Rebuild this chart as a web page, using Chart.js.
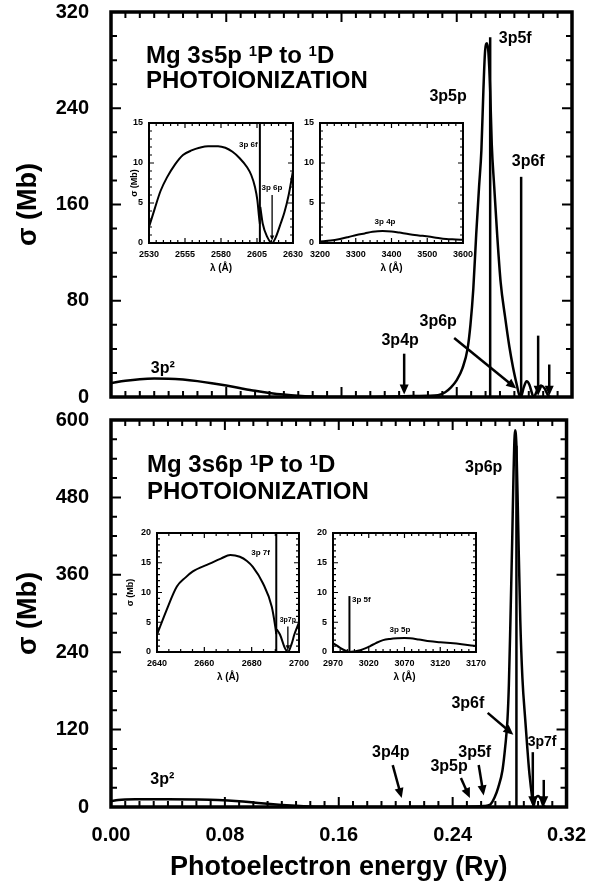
<!DOCTYPE html>
<html>
<head>
<meta charset="utf-8">
<script src="https://cdn.jsdelivr.net/npm/chart.js@4.4.1/dist/chart.umd.min.js"></script>
<style>
body { margin: 0; background: #fff; }
#wrap { position: relative; width: 602px; height: 886px; background: #fff; overflow: hidden; }
canvas { position: absolute; }
.ttl { position: absolute; font: bold 24px "Liberation Sans", Arial, sans-serif; line-height: 25px; white-space: nowrap; color: #000; }
.ttl sup { font-size: 15px; vertical-align: 7px; line-height: 0; }
</style>
</head>
<body>
<div id="wrap">
    <canvas id="mainTop" width="602" height="410" style="left:0;top:0"></canvas>
    <canvas id="mainBot" width="602" height="482" style="left:0;top:404px"></canvas>
    <canvas id="insTopA" width="200" height="172" style="left:109px;top:111px"></canvas>
    <canvas id="insTopB" width="195" height="172" style="left:284px;top:111px"></canvas>
    <canvas id="insBotA" width="198" height="171" style="left:117px;top:521px"></canvas>
    <canvas id="insBotB" width="195" height="171" style="left:297px;top:521px"></canvas>
    <div class="ttl" style="left:146px;top:42px">Mg 3s5p <sup>1</sup>P to <sup>1</sup>D</div>
    <div class="ttl" style="left:146px;top:67px">PHOTOIONIZATION</div>
    <div class="ttl" style="left:147px;top:451px">Mg 3s6p <sup>1</sup>P to <sup>1</sup>D</div>
    <div class="ttl" style="left:147px;top:478px">PHOTOIONIZATION</div>
</div>
<script>
// ---- 3s5p panel: photoelectron energy (Ry) vs cross section (Mb)
const energy5p = [0, 0.01, 0.02, 0.03, 0.04, 0.05, 0.06, 0.07, 0.08, 0.09, 0.10, 0.11, 0.12, 0.13, 0.14, 0.15, 0.16, 0.18, 0.19, 0.20, 0.21, 0.22, 0.227, 0.232, 0.236, 0.240, 0.244, 0.2475, 0.2495, 0.2515, 0.2535, 0.2555, 0.2571, 0.2585, 0.2597, 0.2610, 0.2620, 0.2632, 0.2643, 0.2660, 0.2680, 0.2705, 0.2735, 0.2765, 0.2790, 0.2815, 0.2833, 0.2845, 0.2865, 0.2885, 0.2905, 0.2925, 0.2935, 0.2960, 0.2985, 0.3010, 0.3035, 0.3050];
const sigma5p  = [11.5, 13.5, 14.8, 15.3, 15.2, 14.5, 13.2, 11.5, 9.5, 7.3, 5.2, 3.4, 2.0, 1.0, 0.4, 0.1, 0, 0, 0.2, 0.5, 0.8, 1.0, 1.5, 4, 8, 14, 24, 40, 60, 90, 135, 175, 205, 255, 288, 294, 286, 255, 210, 175, 136, 95, 67, 42, 25, 11, 2, 0, 8, 13, 10, 2, 0, 6, 9.5, 7, 1, 0];
const lines5pE = [0.2632, 0.2847];
const lines5pH = [299, 183];

// ---- 3s6p panel
const energy6p = [0, 0.005, 0.02, 0.04, 0.06, 0.075, 0.09, 0.10, 0.11, 0.12, 0.13, 0.14, 0.15, 0.16, 0.20, 0.24, 0.255, 0.262, 0.2665, 0.2695, 0.272, 0.275, 0.277, 0.2785, 0.2795, 0.2806, 0.2818, 0.2828, 0.2838, 0.2848, 0.2860, 0.2875, 0.2890, 0.2910, 0.2925, 0.2937, 0.2950, 0.2960, 0.2968, 0.2980, 0.3000, 0.3020, 0.3035, 0.3050];
const sigma6p  = [9, 11, 12, 12.2, 11.8, 11, 9, 7, 5, 3.2, 1.8, 0.8, 0.3, 0, 0, 0.3, 0.8, 1.5, 4, 15, 30, 57, 95, 135, 190, 290, 410, 520, 584, 560, 440, 290, 200, 135, 90, 57, 30, 12, 2, 12, 17, 12, 3, 0];
const lines6pE = [0.2848];
const lines6pH = [560];

// ---- insets: wavelength (A) vs cross section (Mb)
const lamTopA1 = [2530, 2534, 2538, 2542.5, 2548, 2553.6, 2560, 2565, 2571, 2578, 2583, 2588, 2593, 2598, 2601, 2603.6, 2605.3, 2606.4, 2607];
const sigTopA1 = [2.0, 4.3, 6.5, 8.2, 9.8, 11.0, 11.6, 11.9, 12.1, 12.1, 11.9, 11.4, 10.6, 9.5, 8.5, 7.0, 5.3, 3.3, 2.4];
const lamTopA2 = [2607.3, 2609, 2612, 2615.5, 2618, 2621, 2624, 2627, 2630];
const sigTopA2 = [4.5, 2.4, 0.8, 0, 0.7, 2.2, 3.8, 6.0, 9.0];
const linesTopAL = [2607];
const linesTopAH = [15];

const lamTopB = [3200, 3230, 3256, 3280, 3302, 3325, 3347, 3375, 3400, 3422, 3450, 3487, 3520, 3553, 3580, 3600];
const sigTopB = [0.2, 0.3, 0.5, 0.75, 1.0, 1.2, 1.4, 1.5, 1.45, 1.3, 1.1, 0.9, 0.7, 0.5, 0.45, 0.4];

const lamBotA1 = [2640, 2644, 2648.4, 2652, 2655, 2662, 2667, 2671, 2675, 2678, 2680.5, 2684.7, 2688.5, 2690, 2690.4];
const sigBotA1 = [2.9, 7, 11, 12.5, 13.5, 14.8, 15.7, 16.3, 16.0, 15.3, 14.3, 11.6, 7.6, 4.2, 3.0];
const lamBotA2 = [2690.6, 2692, 2694, 2695.3, 2697, 2698, 2700];
const sigBotA2 = [3.8, 2.9, 0.7, 0, 1.5, 2.9, 5];
const linesBotAL = [2690.4];
const linesBotAH = [20];

const lamBotB = [2970, 2980, 2987, 2993.5, 3000, 3008, 3015, 3022, 3030, 3040, 3050, 3060, 3070, 3078, 3090, 3106, 3120, 3134, 3150, 3170];
const sigBotB = [1.5, 0.7, 0.25, 0, 0.1, 0.3, 0.6, 1.0, 1.5, 2.0, 2.2, 2.3, 2.35, 2.3, 2.1, 1.8, 1.65, 1.5, 1.3, 1.0];
const linesBotBL = [2993];
const linesBotBH = [9.4];

// ---- annotations: labels [x, y, text, align, size], arrows [x1, y1, x2, y2]
const labels5p = [
    [0.036, 24, '3p\u00b2'], [0.2007, 47, '3p4p'], [0.2271, 63, '3p6p'],
    [0.234, 250, '3p5p'], [0.2806, 298, '3p5f'], [0.2896, 196, '3p6f']
];
const arrows5p = [
    [0.2035, 36, 0.2035, 2], [0.2382, 49, 0.2813, 7],
    [0.2965, 51, 0.2965, 1], [0.3042, 27, 0.3042, 1]
];
const labels6p = [
    [0.036, 42, '3p\u00b2'], [0.1965, 85, '3p4p'], [0.2375, 62, '3p5p'],
    [0.2555, 85, '3p5f'], [0.2507, 161, '3p6f'], [0.2618, 526, '3p6p'],
    [0.3028, 101, '3p7f', 'center', 14]
];
const arrows6p = [
    [0.1979, 65, 0.2042, 14], [0.2458, 45, 0.2521, 14], [0.2583, 65, 0.2618, 18],
    [0.2646, 146, 0.2826, 112], [0.2963, 85, 0.2963, 1], [0.3040, 42, 0.3040, 1]
];
const labelsTopA = [[2605.5, 12.25, '3p 6f', 'right'], [2615.4, 6.9, '3p 6p']];
const arrowsTopA = [[2615.5, 6.0, 2615.5, 0.3]];
const labelsTopB = [[3382, 2.6, '3p 4p']];
const labelsBotA = [[2687.7, 16.6, '3p 7f', 'right'], [2695.3, 5.4, '3p7p', 'center', 7]];
const arrowsBotA = [[2695.3, 4.3, 2695.3, 0.3]];
const labelsBotB = [[2996.6, 8.7, '3p 5f', 'left'], [3063.7, 3.7, '3p 5p']];

const FONT = '"Liberation Sans", Arial, sans-serif';
Chart.defaults.font.family = FONT;
Chart.defaults.color = '#000';
Chart.defaults.animation = false;

// inward ticks on all four sides plus the box frame
const frameTicks = {
    id: 'frameTicks',
    afterDatasetsDraw(chart, args, o) {
        const { ctx, chartArea: a, scales: { x, y } } = chart;
        ctx.save();
        ctx.strokeStyle = '#000';
        ctx.lineWidth = o.tickWidth;
        const run = (scale, minor, major, horiz) => {
            const n = Math.round((scale.max - scale.min) / minor);
            for (let i = 0; i <= n; i++) {
                const v = scale.min + i * minor;
                const r = (v - scale.min) / major;
                const len = Math.abs(r - Math.round(r)) < 1e-6 ? o.majorLen : o.minorLen;
                const p = scale.getPixelForValue(v);
                ctx.beginPath();
                if (horiz) {
                    ctx.moveTo(p, a.bottom); ctx.lineTo(p, a.bottom - len);
                    ctx.moveTo(p, a.top); ctx.lineTo(p, a.top + len);
                } else {
                    ctx.moveTo(a.left, p); ctx.lineTo(a.left + len, p);
                    ctx.moveTo(a.right, p); ctx.lineTo(a.right - len, p);
                }
                ctx.stroke();
            }
        };
        run(x, o.xMinor, o.xMajor, true);
        run(y, o.yMinor, o.yMajor, false);
        ctx.lineWidth = o.frameWidth;
        ctx.strokeRect(a.left, a.top, a.width, a.height);
        ctx.restore();
    }
};

// text labels and arrows placed in data units
const annot = {
    id: 'annot',
    afterDatasetsDraw(chart, args, o) {
        const { ctx, scales: { x, y } } = chart;
        ctx.save();
        ctx.fillStyle = '#000';
        ctx.strokeStyle = '#000';
        (o.arrows || []).forEach(ar => {
            const x1 = x.getPixelForValue(ar[0]), y1 = y.getPixelForValue(ar[1]);
            const x2 = x.getPixelForValue(ar[2]), y2 = y.getPixelForValue(ar[3]);
            const ang = Math.atan2(y2 - y1, x2 - x1);
            const hl = o.headLen, hw = o.headWidth;
            const c = Math.cos(ang), s = Math.sin(ang);
            ctx.lineWidth = o.arrowWidth;
            ctx.beginPath();
            ctx.moveTo(x1, y1);
            ctx.lineTo(x2 - hl * 0.8 * c, y2 - hl * 0.8 * s);
            ctx.stroke();
            ctx.beginPath();
            ctx.moveTo(x2, y2);
            ctx.lineTo(x2 - hl * c + hw * s, y2 - hl * s - hw * c);
            ctx.lineTo(x2 - hl * c - hw * s, y2 - hl * s + hw * c);
            ctx.closePath();
            ctx.fill();
        });
        (o.labels || []).forEach(l => {
            ctx.font = 'bold ' + (l[4] || o.fontSize) + 'px ' + FONT;
            ctx.textAlign = l[3] || 'center';
            ctx.textBaseline = 'middle';
            ctx.fillText(l[2], x.getPixelForValue(l[0]), y.getPixelForValue(l[1]));
        });
        ctx.restore();
    }
};
Chart.register(frameTicks, annot);

function curve(xs, ys, w) {
    return {
        data: xs.map((v, i) => ({ x: v, y: ys[i] })),
        showLine: true, borderColor: '#000', borderWidth: w, pointRadius: 0,
        tension: 0.3, cubicInterpolationMode: 'monotone'
    };
}
function sticks(xs, hs, w) {
    return xs.map((v, i) => ({
        data: [{ x: v, y: 0 }, { x: v, y: hs[i] }],
        showLine: true, borderColor: '#000', borderWidth: w, pointRadius: 0, tension: 0
    }));
}

const noGrid = { display: false, drawTicks: false };

function mainChart(id, datasets, c) {
    return new Chart(document.getElementById(id), {
        type: 'scatter',
        data: { datasets: datasets },
        options: {
            responsive: false,
            layout: { padding: { top: c.padTop, right: 30, left: 0, bottom: 0 } },
            plugins: {
                legend: { display: false }, tooltip: { enabled: false },
                frameTicks: { xMinor: 0.01, xMajor: 0.08, yMinor: c.yMinor, yMajor: c.yStep, majorLen: 10, minorLen: 6, tickWidth: 2, frameWidth: 3.5 },
                annot: { labels: c.labels, arrows: c.arrows, fontSize: 16, headLen: 10, headWidth: 4.5, arrowWidth: 2.5 }
            },
            scales: {
                x: {
                    type: 'linear', min: 0, max: 0.32,
                    afterFit: s => { s.height = c.xH; },
                    grid: noGrid, border: { display: false },
                    ticks: { display: c.showX, stepSize: 0.08, autoSkip: false, maxRotation: 0, padding: 16,
                        font: { size: 20, weight: 'bold' }, callback: v => v.toFixed(2) },
                    title: { display: c.showX, text: 'Photoelectron energy (Ry)', font: { size: 27, weight: 'bold' }, padding: { top: 0, bottom: 2 } }
                },
                y: {
                    min: 0, max: c.yMax,
                    afterFit: s => { s.width = 111; s.paddingTop = 0; s.paddingBottom = 0; },
                    grid: noGrid, border: { display: false },
                    ticks: { stepSize: c.yStep, autoSkip: false, padding: 22,
                        font: { size: 20, weight: 'bold', lineHeight: 1 }, callback: v => String(v) },
                    title: { display: true, text: 'σ (Mb)', font: { size: 27, weight: 'bold' }, padding: { top: 12, bottom: 0 } }
                }
            }
        }
    });
}

function insetChart(id, datasets, c) {
    return new Chart(document.getElementById(id), {
        type: 'scatter',
        data: { datasets: datasets },
        options: {
            responsive: false,
            layout: { padding: { top: 12, right: 16, left: 0, bottom: 0 } },
            plugins: {
                legend: { display: false }, tooltip: { enabled: false },
                frameTicks: { xMinor: c.xMinor, xMajor: c.xStep, yMinor: 1, yMajor: 5, majorLen: 5, minorLen: 3, tickWidth: 1.2, frameWidth: 2 },
                annot: { labels: c.labels, arrows: c.arrows || [], fontSize: 8, headLen: 5, headWidth: 2.2, arrowWidth: 1.3 }
            },
            scales: {
                x: {
                    type: 'linear', min: c.xMin, max: c.xMax,
                    afterFit: s => { s.height = 40; },
                    grid: noGrid, border: { display: false },
                    ticks: { stepSize: c.xStep, autoSkip: false, maxRotation: 0, padding: 6,
                        font: { size: 9, weight: 'bold' }, callback: v => String(Math.round(v)) },
                    title: { display: true, text: 'λ (Å)', font: { size: 10, weight: 'bold' }, padding: { top: 0, bottom: 9 } }
                },
                y: {
                    min: 0, max: c.yMax,
                    afterFit: s => { s.width = c.yW; s.paddingTop = 0; s.paddingBottom = 0; },
                    grid: noGrid, border: { display: false },
                    ticks: { stepSize: 5, autoSkip: false, padding: 6,
                        font: { size: 9, weight: 'bold' }, callback: v => String(v) },
                    title: { display: c.yTitle, text: 'σ (Mb)', font: { size: 9, weight: 'bold' }, padding: { top: c.yTitlePad || 0, bottom: 0 } }
                }
            }
        }
    });
}

mainChart('mainTop', [curve(energy5p, sigma5p, 2.5)].concat(sticks(lines5pE, lines5pH, 2.5)), {
    padTop: 12, xH: 13, showX: false, yMax: 320, yStep: 80, yMinor: 20, labels: labels5p, arrows: arrows5p
});
mainChart('mainBot', [curve(energy6p, sigma6p, 2.5)].concat(sticks(lines6pE, lines6pH, 2.5)), {
    padTop: 16, xH: 79, showX: true, yMax: 600, yStep: 120, yMinor: 30, labels: labels6p, arrows: arrows6p
});

insetChart('insTopA', [curve(lamTopA1, sigTopA1, 2), curve(lamTopA2, sigTopA2, 2)].concat(sticks(linesTopAL, linesTopAH, 2)), {
    xMin: 2530, xMax: 2630, xStep: 25, xMinor: 5, yMax: 15, yW: 40, yTitle: true, yTitlePad: 20,
    labels: labelsTopA, arrows: arrowsTopA
});
insetChart('insTopB', [curve(lamTopB, sigTopB, 2)], {
    xMin: 3200, xMax: 3600, xStep: 100, xMinor: 20, yMax: 15, yW: 36, yTitle: false,
    labels: labelsTopB
});
insetChart('insBotA', [curve(lamBotA1, sigBotA1, 2), curve(lamBotA2, sigBotA2, 2)].concat(sticks(linesBotAL, linesBotAH, 2)), {
    xMin: 2640, xMax: 2700, xStep: 20, xMinor: 5, yMax: 20, yW: 40, yTitle: true, yTitlePad: 8,
    labels: labelsBotA, arrows: arrowsBotA
});
insetChart('insBotB', [curve(lamBotB, sigBotB, 2)].concat(sticks(linesBotBL, linesBotBH, 2)), {
    xMin: 2970, xMax: 3170, xStep: 50, xMinor: 10, yMax: 20, yW: 36, yTitle: false,
    labels: labelsBotB
});
</script>
</body>
</html>
